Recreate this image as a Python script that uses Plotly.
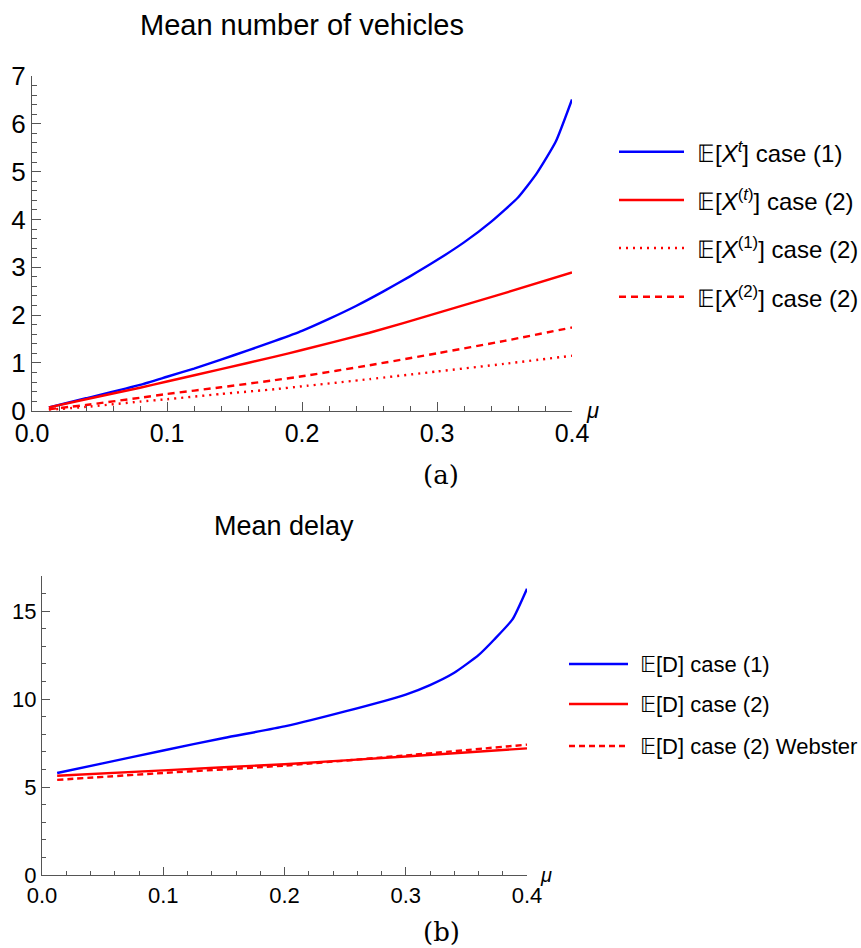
import plotly.graph_objects as go

# ---------------- data ----------------
mu_blue_a = [0.0125, 0.04, 0.08, 0.1, 0.12, 0.14, 0.16, 0.18, 0.2, 0.22, 0.24, 0.26, 0.28, 0.3, 0.32, 0.34, 0.36, 0.374, 0.388, 0.4]
ext_case1 = [0.07, 0.26, 0.54, 0.71, 0.88, 1.07, 1.26, 1.46, 1.67, 1.92, 2.19, 2.49, 2.81, 3.15, 3.52, 3.95, 4.46, 4.97, 5.63, 6.51]

mu_red_a = [0.0125, 0.04, 0.08, 0.1, 0.14, 0.18, 0.2, 0.25, 0.3, 0.35, 0.4]
ext_case2 = [0.07, 0.24, 0.48, 0.61, 0.87, 1.13, 1.27, 1.63, 2.04, 2.46, 2.89]
ex1_case2 = [0.02, 0.08, 0.19, 0.24, 0.35, 0.45, 0.51, 0.66, 0.82, 0.98, 1.15]
ex2_case2 = [0.03, 0.12, 0.27, 0.35, 0.49, 0.64, 0.72, 0.95, 1.20, 1.46, 1.74]

mu_blue_b = [0.0125, 0.05, 0.1, 0.15, 0.2, 0.25, 0.3, 0.32, 0.34, 0.36, 0.373, 0.388, 0.4]
ed_case1 = [5.8, 6.35, 7.08, 7.79, 8.45, 9.3, 10.26, 10.8, 11.5, 12.5, 13.39, 14.53, 16.28]

mu_red_b = [0.0125, 0.1, 0.2, 0.3, 0.4]
ed_case2 = [5.64, 5.95, 6.3, 6.74, 7.2]
ed_webster = [5.41, 5.8, 6.22, 6.8, 7.41]

legend_a = ["𝔼[<i>X</i><sup><i>t</i></sup>] case (1)",
            "𝔼[<i>X</i><sup>(<i>t</i>)</sup>] case (2)",
            "𝔼[<i>X</i><sup>(1)</sup>] case (2)",
            "𝔼[<i>X</i><sup>(2)</sup>] case (2)"]
legend_b = ["𝔼[D] case (1)", "𝔼[D] case (2)", "𝔼[D] case (2) Webster"]

# ---------------- layout helpers ----------------
W, H = 861, 948
def px(x):
    return x / W
def py(y):
    return (H - y) / H

BLUE = "#0000ff"
RED = "#ff0000"
FONT = "Liberation Sans, Arial, sans-serif"
LW = 2.4

styles_a = [(BLUE, "solid"), (RED, "solid"), (RED, "2px,5px"), (RED, "7px,5px")]
styles_b = [(BLUE, "solid"), (RED, "solid"), (RED, "6px,4px")]

fig = go.Figure()

series_a = [(mu_blue_a, ext_case1), (mu_red_a, ext_case2), (mu_red_a, ex1_case2), (mu_red_a, ex2_case2)]
for (xs, ys), (c, d), name in zip(series_a, styles_a, legend_a):
    fig.add_trace(go.Scatter(x=xs, y=ys, mode="lines", name=name, showlegend=False,
                             line=dict(color=c, width=LW, dash=d, shape="spline", smoothing=0.5),
                             xaxis="x", yaxis="y"))

series_b = [(mu_blue_b, ed_case1), (mu_red_b, ed_case2), (mu_red_b, ed_webster)]
for (xs, ys), (c, d), name in zip(series_b, styles_b, legend_b):
    fig.add_trace(go.Scatter(x=xs, y=ys, mode="lines", name=name, showlegend=False,
                             line=dict(color=c, width=LW, dash=d, shape="spline", smoothing=0.5),
                             xaxis="x2", yaxis="y2"))

def axis(size, **kw):
    d = dict(showline=True, linecolor="#555555", linewidth=1.2, ticks="inside",
             tickcolor="#555555", showgrid=False, zeroline=False, automargin=False,
             tickfont=dict(family=FONT, color="black", size=size))
    d.update(kw)
    return d

fig.update_layout(
    width=W, height=H, margin=dict(l=0, r=0, t=0, b=0, autoexpand=False),
    paper_bgcolor="white", plot_bgcolor="white",
    xaxis=axis(25, domain=[px(32), px(572)], range=[0, 0.4], anchor="y", dtick=0.1, tick0=0,
               tickformat=".1f", ticklen=9,
               minor=dict(dtick=0.02, ticklen=5, ticks="inside", tickcolor="#555555")),
    yaxis=axis(26, domain=[py(410.7), py(76)], range=[0, 7], anchor="x", dtick=1, tick0=0,
               ticklen=9,
               minor=dict(dtick=0.2, ticklen=5, ticks="inside", tickcolor="#555555")),
    xaxis2=axis(22, domain=[px(42), px(527)], range=[0, 0.4], anchor="y2", dtick=0.1, tick0=0,
                tickformat=".1f", ticklen=8,
                minor=dict(dtick=0.02, ticklen=4, ticks="inside", tickcolor="#555555")),
    yaxis2=axis(22, domain=[py(875), py(576)], range=[0, 17], anchor="x2", dtick=5, tick0=0,
                ticklen=8,
                minor=dict(dtick=1, ticklen=4, ticks="inside", tickcolor="#555555")),
)

annotations = [
    dict(text="Mean number of vehicles", x=px(302), y=py(25), font=dict(size=29, family=FONT, color="black")),
    dict(text="Mean delay", x=px(284), y=py(526), font=dict(size=27, family=FONT, color="black")),
    dict(text="(a)", x=px(441), y=py(475), font=dict(size=26, family="DejaVu Serif, serif", color="black")),
    dict(text="(b)", x=px(441), y=py(932), font=dict(size=26, family="DejaVu Serif, serif", color="black")),
    dict(text="<i>μ</i>", x=px(592), y=py(410), font=dict(size=22, family=FONT, color="black")),
    dict(text="<i>μ</i>", x=px(546), y=py(875), font=dict(size=20, family=FONT, color="black")),
]
shapes = []
rows_a = [151.7, 200, 248, 296.7]
for (c, d), name, yy in zip(styles_a, legend_a, rows_a):
    shapes.append(dict(type="line", xref="paper", yref="paper", x0=px(619), x1=px(684), y0=py(yy), y1=py(yy),
                       line=dict(color=c, width=LW, dash=d)))
    annotations.append(dict(text=name, x=px(695), y=py(yy), xanchor="left",
                            font=dict(size=24, family=FONT, color="black")))
rows_b = [664, 704, 746]
for (c, d), name, yy in zip(styles_b, legend_b, rows_b):
    shapes.append(dict(type="line", xref="paper", yref="paper", x0=px(569), x1=px(628), y0=py(yy), y1=py(yy),
                       line=dict(color=c, width=LW, dash=d)))
    annotations.append(dict(text=name, x=px(638), y=py(yy), xanchor="left",
                            font=dict(size=22, family=FONT, color="black")))

for a in annotations:
    a.setdefault("xanchor", "center")
    a.update(xref="paper", yref="paper", yanchor="middle", showarrow=False)

fig.update_layout(annotations=annotations, shapes=shapes)
fig.write_html("out.html", config={"displayModeBar": False},
               post_script="document.body.style.margin='0';document.body.style.overflow='hidden';")
